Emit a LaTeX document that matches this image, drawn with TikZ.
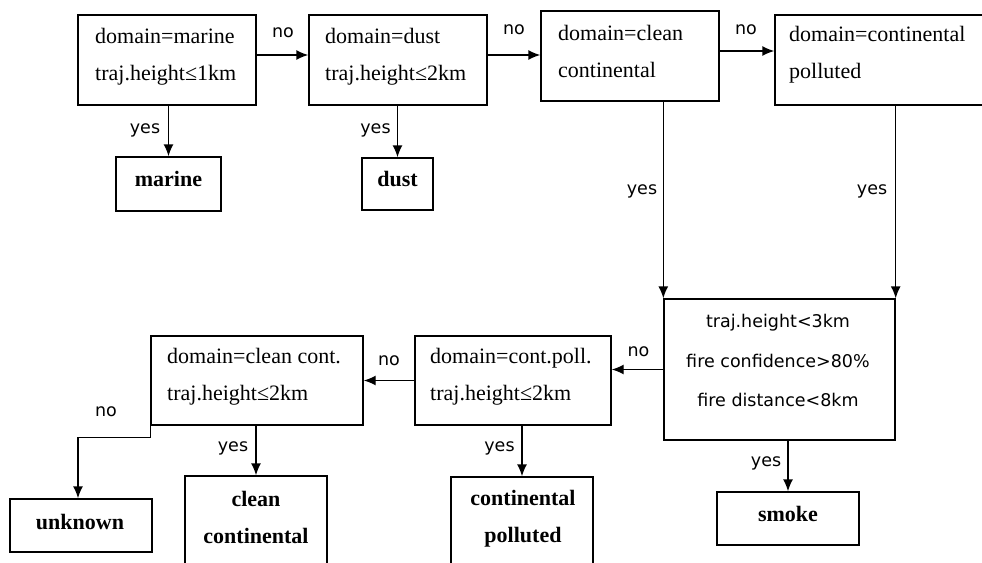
\documentclass[tikz,border=0pt]{standalone}
\usepackage{fontspec}
\setmainfont{Liberation Serif}
\newfontfamily\labfont{DejaVu Sans}
\usetikzlibrary{arrows.meta}
\begin{document}
\begin{tikzpicture}[x=1pt,y=-1pt,
  box/.style={draw, line width=1.4pt, inner sep=0pt},
  cond/.style={font=\fontsize{22}{37}\selectfont, align=left, anchor=west, inner sep=0pt},
  res/.style={font=\fontsize{22}{37}\selectfont\bfseries, align=center, inner sep=0pt},
  resone/.style={font=\fontsize{22}{26}\selectfont\bfseries, inner sep=0pt, anchor=base},
  lab/.style={font=\labfont\fontsize{17.5}{21}\selectfont, inner sep=0pt, anchor=base},
  arr/.style={-{Latex[length=12pt,width=10pt]}, line width=1.4pt}]
\useasboundingbox (0,0) rectangle (982,562);
\clip (0,0) rectangle (982,562);
% condition boxes
\node[box, minimum width=178pt, minimum height=90pt] (b1) at (167,60) {};
\node[box, minimum width=178pt, minimum height=90pt] (b2) at (398,60) {};
\node[box, minimum width=178pt, minimum height=90pt] (b3) at (630,56) {};
\node[box, minimum width=225pt, minimum height=90pt] (b4) at (887.5,60) {};
\node[box, minimum width=231pt, minimum height=141pt] (s) at (779.5,369.5) {};
\node[box, minimum width=196pt, minimum height=89pt] (cp) at (513,380.5) {};
\node[box, minimum width=212pt, minimum height=89pt] (cc) at (257,380.5) {};
% result boxes
\node[box, minimum width=105pt, minimum height=54pt] (o1) at (168.5,184) {};
\node[box, minimum width=71pt, minimum height=52pt] (o2) at (397.5,184) {};
\node[box, minimum width=142pt, minimum height=53pt] (unk) at (81,525.5) {};
\node[box, minimum width=142pt, minimum height=124pt] (ccout) at (256,538) {};
\node[box, minimum width=142pt, minimum height=123pt] (cpout) at (522,538.5) {};
\node[box, minimum width=142pt, minimum height=53pt] (sm) at (788,518.5) {};
% condition texts
\node[cond] (t1) at (95,56.5) {domain=marine\\traj.height≤1km};
\node[cond] (t2) at (325,56.5) {domain=dust\\traj.height≤2km};
\node[cond] (t3) at (558,51) {domain=clean\\continental};
\node[cond] (t4) at (789,55) {domain=continental\\polluted};
\node[cond] (tcp) at (430,376.5) {domain=cont.poll.\\traj.height≤2km};
\node[cond] (tcc) at (167,377) {domain=clean cont.\\traj.height≤2km};
\node[font=\labfont\fontsize{17.5}{39.5}\selectfont, align=center, inner sep=0pt] (ts) at (778,360.5) {traj.height<3km\\fire confidence>80\%\\fire distance<8km};
% result texts
\node[resone] (r1) at (168.5,186) {marine};
\node[resone] (r2) at (397.5,186) {dust};
\node[resone] (r3) at (80,529) {unknown};
\node[resone] (r4) at (788,521) {smoke};
\node[res] (r5) at (256,517.5) {clean\\continental};
\node[res] (r6) at (523,519) {continental\\polluted};
% connectors
\draw[arr] (b1.east |- 0,55) -- (b2.west |- 0,55);
\draw[arr] (b2.east |- 0,55) -- (b3.west |- 0,55);
\draw[arr] (b3.east |- 0,51) -- (b4.west |- 0,51);
\draw[arr] (b1.south -| o1.north) -- (o1.north);
\draw[arr] (b2.south -| o2.north) -- (o2.north);
\draw[arr] (b3.south -| s.north west) -- (s.north west);
\draw[arr] (b4.south -| s.north east) -- (s.north east);
\draw[arr] (s.west) -- (s.west -| cp.east);
\draw[arr] (cp.west) -- (cc.east);
\draw[arr] (cc.south west) -- ++(0,12) -| ([xshift=-3pt]unk.north);
\draw[arr] (cc.south -| ccout.north) -- (ccout.north);
\draw[arr] (cp.south -| cpout.north) -- (cpout.north);
\draw[arr] (s.south -| sm.north) -- (sm.north);
% labels
\node[lab] (l1) at (283,37) {no};
\node[lab] (l2) at (514,34) {no};
\node[lab] (l3) at (746,34) {no};
\node[lab] (l4) at (145,133.5) {yes};
\node[lab] (l5) at (375.5,133.5) {yes};
\node[lab] (l6) at (642,194) {yes};
\node[lab] (l7) at (872,194) {yes};
\node[lab] (l8) at (638.5,356) {no};
\node[lab] (l9) at (389,365) {no};
\node[lab] (l10) at (106,416) {no};
\node[lab] (l11) at (233,451) {yes};
\node[lab] (l12) at (499.5,451) {yes};
\node[lab] (l13) at (766,466) {yes};
\end{tikzpicture}
\end{document}
